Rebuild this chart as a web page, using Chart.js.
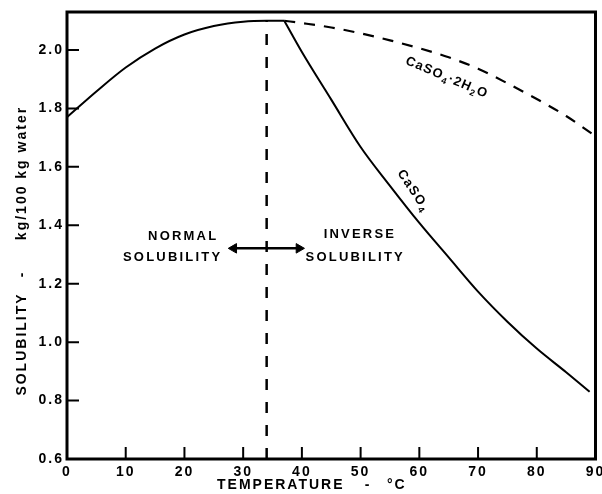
<!DOCTYPE html>
<html>
<head>
<meta charset="utf-8">
<script src="https://cdn.jsdelivr.net/npm/chart.js@4/dist/chart.umd.min.js"></script>
<style>
  html, body { margin: 0; padding: 0; background: #fff; }
  canvas { display: block; }
</style>
</head>
<body>
<canvas id="c" width="602" height="494"></canvas>
<script>
// Gypsum (CaSO4·2H2O) solubility, stable branch below the transition point
const gypsumTempLow = [0, 5, 10, 15, 20, 25, 30, 34, 37];
const gypsumSolLow  = [1.77, 1.858, 1.94, 2.005, 2.053, 2.082, 2.097, 2.10, 2.10];
// Gypsum, metastable branch above the transition point
const gypsumTempHigh = [37, 40, 45, 50, 55, 60, 65, 70, 75, 80, 85, 90];
const gypsumSolHigh  = [2.10, 2.092, 2.077, 2.057, 2.033, 2.006, 1.975, 1.936, 1.886, 1.832, 1.774, 1.705];
// Anhydrite (CaSO4) solubility
const anhydriteTemp = [37, 40, 45, 50, 55, 60, 65, 70, 75, 80, 85, 89];
const anhydriteSol  = [2.10, 1.993, 1.83, 1.668, 1.535, 1.408, 1.29, 1.173, 1.07, 0.978, 0.897, 0.83];
// Transition temperature separating normal and inverse solubility
const transitionTemp = 34;
// Axis ticks
const xTicks = [0, 10, 20, 30, 40, 50, 60, 70, 80, 90];
const yTicks = [0.6, 0.8, 1.0, 1.2, 1.4, 1.6, 1.8, 2.0];

const FONT = '"Liberation Sans", Arial, Helvetica, sans-serif';
const pts = (xs, ys) => xs.map((x, i) => ({ x: x, y: ys[i] }));

function spaced(ctx, parts, x, y, size, spacing, align) {
  // parts: [text, isSubscript]
  ctx.save();
  ctx.letterSpacing = spacing + 'px';
  let w = 0;
  const widths = parts.map(([t, sub]) => {
    ctx.font = 'bold ' + (sub ? Math.round(size * 0.72) : size) + 'px ' + FONT;
    const m = ctx.measureText(t).width;
    w += m;
    return m;
  });
  w -= spacing;
  let cx = align === 'center' ? x - w / 2 : (align === 'right' ? x - w : x);
  ctx.textAlign = 'left';
  ctx.textBaseline = 'middle';
  parts.forEach(([t, sub], i) => {
    ctx.font = 'bold ' + (sub ? Math.round(size * 0.72) : size) + 'px ' + FONT;
    ctx.fillText(t, cx, y + (sub ? size * 0.35 : 0));
    cx += widths[i];
  });
  ctx.restore();
}

const decorations = {
  id: 'decorations',
  beforeDraw(chart) {
    chart.ctx.letterSpacing = '2px';
  },
  afterDraw(chart) {
    const { ctx, chartArea: a, scales: { x, y } } = chart;
    ctx.save();
    ctx.letterSpacing = '0px';
    ctx.strokeStyle = '#000';
    ctx.fillStyle = '#000';
    // inner tick marks
    ctx.lineWidth = 2;
    ctx.beginPath();
    x.ticks.forEach(t => {
      if (t.value > 0 && t.value < 90) {
        const px = x.getPixelForValue(t.value);
        ctx.moveTo(px, a.bottom); ctx.lineTo(px, a.bottom - 12);
      }
    });
    y.ticks.forEach(t => {
      if (t.value > 0.65) {
        const py = y.getPixelForValue(t.value);
        ctx.moveTo(a.left, py); ctx.lineTo(a.left + 12, py);
      }
    });
    ctx.stroke();
    // frame
    ctx.lineWidth = 3;
    ctx.strokeRect(a.left, a.top, a.right - a.left, a.bottom - a.top);

    // region labels
    spaced(ctx, [['NORMAL', 0]], x.getPixelForValue(19.6), y.getPixelForValue(1.362), 13, 2.2, 'center');
    spaced(ctx, [['SOLUBILITY', 0]], x.getPixelForValue(17.8), y.getPixelForValue(1.29), 13, 2.2, 'center');
    spaced(ctx, [['INVERSE', 0]], x.getPixelForValue(49.7), y.getPixelForValue(1.369), 13, 2.2, 'center');
    spaced(ctx, [['SOLUBILITY', 0]], x.getPixelForValue(48.9), y.getPixelForValue(1.29), 13, 2.2, 'center');

    // curve labels
    ctx.save();
    ctx.translate(x.getPixelForValue(64.6), y.getPixelForValue(1.906));
    ctx.rotate(23 * Math.PI / 180);
    spaced(ctx, [['CaSO', 0], ['4', 1], ['·2H', 0], ['2', 1], ['O', 0]], 0, 0, 13, 1.2, 'center');
    ctx.restore();
    ctx.save();
    ctx.translate(x.getPixelForValue(58.9), y.getPixelForValue(1.52));
    ctx.rotate(56 * Math.PI / 180);
    spaced(ctx, [['CaSO', 0], ['4', 1]], 0, 0, 13, 1.5, 'center');
    ctx.restore();

    // axis titles
    spaced(ctx, [['TEMPERATURE', 0]], 217, 485, 14, 2, 'left');
    spaced(ctx, [['-', 0]], 367, 485, 14, 2, 'center');
    spaced(ctx, [['°C', 0]], 387, 485, 14, 2, 'left');
    ctx.save();
    ctx.translate(22, 0);
    ctx.rotate(-Math.PI / 2);
    spaced(ctx, [['SOLUBILITY', 0]], -345, 0, 14, 2, 'center');
    spaced(ctx, [['-', 0]], -275, 0, 14, 2, 'center');
    spaced(ctx, [['kg/100 kg water', 0]], -174, 0, 14, 2, 'center');
    ctx.restore();

    ctx.restore();
  }
};

new Chart(document.getElementById('c'), {
  type: 'line',
  data: {
    datasets: [
      {
        data: pts(gypsumTempLow, gypsumSolLow),
        borderColor: '#000', borderWidth: 2, pointRadius: 0,
        cubicInterpolationMode: 'monotone'
      },
      {
        data: pts(gypsumTempHigh, gypsumSolHigh),
        borderColor: '#000', borderWidth: 2.2, pointRadius: 0,
        borderDash: [11, 9], cubicInterpolationMode: 'monotone'
      },
      {
        data: pts(anhydriteTemp, anhydriteSol),
        borderColor: '#000', borderWidth: 2, pointRadius: 0,
        cubicInterpolationMode: 'monotone'
      },
      {
        data: [{ x: transitionTemp, y: 0.6 }, { x: transitionTemp, y: 2.1 }],
        borderColor: '#000', borderWidth: 2.5, pointRadius: 0,
        borderDash: [11, 12]
      },
      {
        // double-headed arrow across the transition
        data: [{ x: 28.4, y: 1.321 }, { x: 39.5, y: 1.321 }],
        borderColor: '#000', borderWidth: 2.5,
        pointStyle: 'triangle', pointRadius: 5.5,
        pointRotation: [-90, 90],
        pointBackgroundColor: '#000', pointBorderColor: '#000', pointBorderWidth: 1
      }
    ]
  },
  options: {
    responsive: false,
    devicePixelRatio: 1,
    animation: false,
    layout: { padding: { top: 12, right: 6, left: 0, bottom: 0 } },
    plugins: { legend: { display: false }, tooltip: { enabled: false } },
    scales: {
      x: {
        type: 'linear', min: 0, max: 90,
        grid: { display: false, drawTicks: false },
        border: { display: false },
        afterBuildTicks: s => { s.ticks = xTicks.map(v => ({ value: v })); },
        afterFit: s => { s.height = 35; s.paddingLeft = 0; s.paddingRight = 0; },
        ticks: {
          padding: 5, color: '#000', maxRotation: 0, autoSkip: false,
          font: { family: FONT, size: 14, weight: 'bold' },
          callback: v => String(v)
        }
      },
      y: {
        type: 'linear', min: 0.6, max: 2.13,
        grid: { display: false, drawTicks: false },
        border: { display: false },
        afterBuildTicks: s => { s.ticks = yTicks.map(v => ({ value: v })); },
        afterFit: s => { s.width = 67; s.paddingTop = 0; s.paddingBottom = 0; },
        ticks: {
          padding: 3, color: '#000', autoSkip: false,
          font: { family: FONT, size: 14, weight: 'bold' },
          callback: v => Number(v).toFixed(1)
        }
      }
    }
  },
  plugins: [decorations]
});
</script>
</body>
</html>
